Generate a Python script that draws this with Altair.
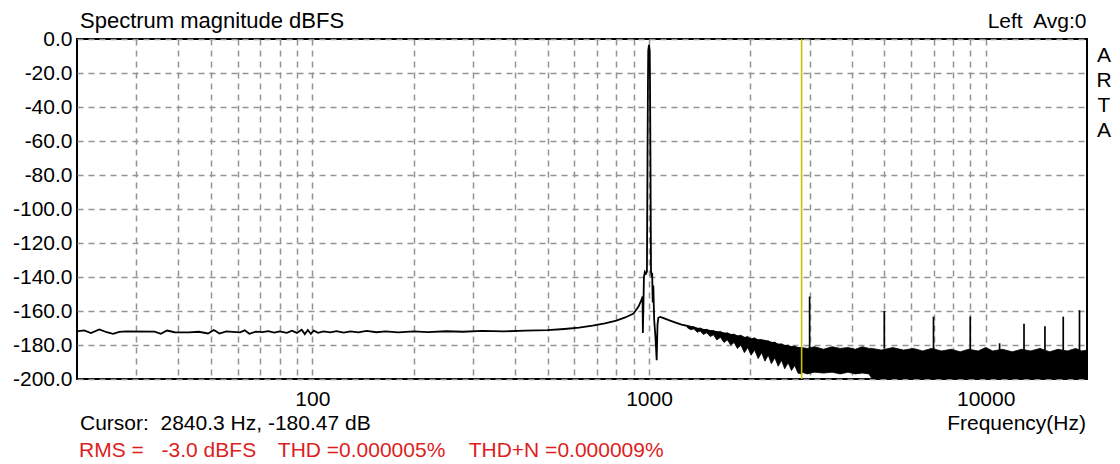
import altair as alt
import pandas as pd

# ---------------- data ----------------
# main spectrum trace (Hz, dBFS)
trace_freq = [20, 21, 22, 23.3, 24.5, 25.6, 26.7, 28, 34, 35.5, 37, 39, 43, 46, 49, 51, 53,
              55.5, 58, 61, 63, 65, 68, 71, 74, 77, 80, 84, 87, 90, 93, 95, 97, 99, 101,
              104, 108, 113, 118, 124, 130, 137, 145, 155, 165, 180, 200, 220, 250, 280,
              320, 370, 430, 500, 560, 620, 680, 740, 800, 850, 900, 930, 950, 957, 959,
              962, 966, 972, 980, 986, 990, 993, 995, 1000, 1005, 1007, 1010, 1014, 1018,
              1022, 1026, 1030, 1036, 1045, 1054, 1060, 1066, 1080, 1100, 1150, 1200, 1250,
              1300, 1400, 1500, 1600, 1700, 1800, 1900, 2000, 2200, 2400, 2600, 2840]
trace_db = [-172, -171.4, -173, -170.8, -172.5, -173.4, -172.3, -172.0, -172.1, -173.4, -171.5,
            -172.5, -172.6, -172.2, -173.2, -171.2, -173.3, -172, -172.3, -172.6, -171.4,
            -173.4, -172.1, -172.4, -171.8, -172.7, -172, -172.8, -171.6, -172.9, -171.0,
            -173.6, -171.2, -173.5, -171.6, -172.8, -172, -172.6, -171.8, -172.7, -172,
            -172.6, -171.7, -172.5, -172, -172.6, -172, -172.4, -171.9, -172.2, -171.7, -172,
            -171.6, -171.3, -170.6, -169.8, -168.6, -167.3, -165.6, -163.8, -161.5, -157.5,
            -153.5, -151.5, -173, -160, -140, -137, -138, -137, -70, -25, -7, -3.5, -7, -25,
            -70, -137, -140, -137.5, -155, -145, -165, -175, -189, -168, -164, -163.5, -164,
            -165.5, -166.8, -168, -168.8, -170.5, -171.5, -172.5, -173.5, -174.5, -175.5,
            -176.5, -177.5, -179.5, -181, -182]

# noise band (upper and lower edge of the filled black region)
noise_freq = [1300, 1330, 1360, 1390, 1420, 1450, 1485, 1520, 1555, 1590, 1630, 1670, 1710,
              1750, 1790, 1830, 1875, 1920, 1965, 2010, 2060, 2110, 2160, 2210, 2260, 2310,
              2365, 2420, 2475, 2530, 2590, 2650, 2710, 2770, 2838,
              2845, 2950, 3100, 3300, 3500, 3700, 3900, 4100, 4300, 4500, 4600,
              4900, 5300, 5700, 6100, 6500, 6900, 7400, 7900, 8400, 8900, 9500, 10000, 10500,
              11200, 12000, 12800, 13600, 14500, 15500, 16400, 17500, 18500, 19300, 20000]
noise_top = [-168.8, -169.5, -169.2, -170.3, -170, -171, -170.8, -171.8, -171.5, -172.6, -172,
             -173.2, -172.8, -174, -173.6, -174.8, -174.2, -175.6, -175, -176.5, -175.8, -177.3,
             -176.8, -178, -177.5, -179, -178.2, -179.8, -179.2, -180.5, -180, -181.2, -180.6,
             -181.8, -181.5,
             -181.5, -182, -181, -182.5, -181, -182, -181.5, -182.5, -181, -182, -182,
             -183, -181.5, -183, -182, -183.5, -182, -183.5, -182.5, -184, -182.5, -183.5,
             -181.5, -183.5, -182.5, -184, -182.5, -183.5, -182, -184, -182.5, -183.5, -182,
             -183.5, -183]
noise_bottom = [-169.8, -171, -170.5, -172.5, -171.8, -173.8, -172.8, -175, -174, -177, -175.5,
                -178.5, -177, -180, -178.5, -182, -180, -184.5, -181.5, -186, -183, -188, -184.5,
                -189.5, -186, -191, -187.5, -192.5, -189, -194, -190.5, -195, -192, -196.5, -197,
                -196, -197, -196, -196.5, -196, -197, -196, -197, -196.5, -197, -200,
                -200, -200, -200, -200, -200, -200, -200, -200, -200, -200, -200, -200, -200,
                -200, -200, -200, -200, -200, -200, -200, -200, -200, -200, -200]

# harmonic spikes
harm_freq = [3000, 5000, 7000, 9000, 11000, 13000, 15000, 17000, 19000]
harm_db = [-151.5, -160, -163.3, -163.3, -179, -167.5, -169, -163.3, -159.5]
harm_base = [-182, -182, -183, -183, -183, -183, -183, -183, -183]

cursor_freq = [2840.3]

y_ticks = [0, -20, -40, -60, -80, -100, -120, -140, -160, -180, -200]
x_grid = [30, 40, 50, 60, 70, 80, 90, 100, 200, 300, 400, 500, 600, 700, 800, 900,
          1000, 2000, 3000, 4000, 5000, 6000, 7000, 8000, 9000, 10000]
x_labels = [100, 1000, 10000]

title_text = "Spectrum magnitude dBFS"
channel_text = "Left\u00a0 Avg:0"
brand_text = "A\nR\nT\nA"
cursor_text = "Cursor:\u00a0 2840.3 Hz, -180.47 dB"
xaxis_text = "Frequency(Hz)"
rms_label = "RMS ="
rms_value = "-3.0 dBFS"
thd_text = "THD =0.000005%"
thdn_text = "THD+N =0.000009%"

# ---------------- chart ----------------
FONT = "Liberation Sans"
FS = 21
XDOM = [20, 20000]
YDOM = [-200, 0]

xscale = alt.Scale(type="log", domain=XDOM, nice=False)
yscale = alt.Scale(domain=YDOM, nice=False, zero=False)

label_list = ",".join(str(v) for v in x_labels)
x_axis = alt.Axis(values=x_grid, title=None, grid=True, gridColor="#949494", gridDash=[6, 5],
                  gridWidth=1.5, ticks=False, tickSize=0, domain=False, labelFont=FONT,
                  labelFontSize=FS, labelColor="#000", labelPadding=9, labelFlush=False,
                  labelOverlap=False,
                  labelExpr=f"indexof([{label_list}], datum.value) >= 0 ? format(datum.value, 'd') : ''")
y_axis = alt.Axis(values=y_ticks, title=None, grid=True, gridColor="#949494", gridDash=[6, 5],
                  gridWidth=1.5, ticks=False, tickSize=0, domain=False, labelFont=FONT,
                  labelFontSize=FS, labelColor="#000", labelPadding=5, labelFlush=False,
                  labelOverlap=False,
                  labelExpr="(datum.value < 0 ? '-' : '') + format(abs(datum.value), '.1f')")

trace_df = pd.DataFrame({"f": trace_freq, "db": trace_db})
noise_df = pd.DataFrame({"f": noise_freq, "top": noise_top, "bot": noise_bottom})
harm_df = pd.DataFrame({"f": harm_freq, "db": harm_db, "base": harm_base})
cursor_df = pd.DataFrame({"f": cursor_freq})

X = alt.X("f:Q", scale=xscale, axis=x_axis)

noise = alt.Chart(noise_df).mark_area(color="#000", opacity=1, clip=True,
                                      stroke="#000", strokeWidth=0.8).encode(
    x=X,
    y=alt.Y("top:Q", scale=yscale, axis=y_axis),
    y2="bot:Q",
)

trace = alt.Chart(trace_df).mark_line(color="#000", strokeWidth=1.8, clip=True).encode(
    x=X,
    y=alt.Y("db:Q", scale=yscale, axis=y_axis),
)

harm = alt.Chart(harm_df).mark_rule(color="#000", strokeWidth=1.7).encode(
    x=X,
    y=alt.Y("db:Q", scale=yscale, axis=y_axis),
    y2="base:Q",
)

cursor = alt.Chart(cursor_df).mark_rule(color="#c8c000", strokeWidth=1.6).encode(
    x=X,
)


def txt(s, x, y, align="left", color="#000", size=FS, **kw):
    return alt.Chart(pd.DataFrame({"t": [s]})).mark_text(
        align=align, baseline="alphabetic", font=FONT, fontSize=size, color=color, **kw
    ).encode(text="t:N", x=alt.value(x), y=alt.value(y))


RED = "#dc1e1e"
texts = [
    txt(title_text, 3, -11, size=22),
    txt(channel_text, 1009.5, -11, align="right"),
    txt(brand_text, 1027, 22.7, align="center", lineBreak="\n", lineHeight=25),
    txt(cursor_text, 3, 390.5),
    txt(xaxis_text, 1009, 390.5, align="right"),
    txt(rms_label, 2, 418, color=RED),
    txt(rms_value, 84.6, 418, color=RED),
    txt(thd_text, 200.8, 418, color=RED),
    txt(thdn_text, 391.7, 418, color=RED),
]

chart = alt.layer(noise, trace, harm, cursor, *texts).properties(
    width=1010,
    height=340,
    autosize=alt.AutoSizeParams(type="none"),
    padding={"left": 69, "top": 31, "right": 25, "bottom": 84},
    background="#ffffff",
).configure_view(stroke="#000", strokeWidth=2)

chart.save("out.html", embed_options={"renderer": "svg", "actions": False})
